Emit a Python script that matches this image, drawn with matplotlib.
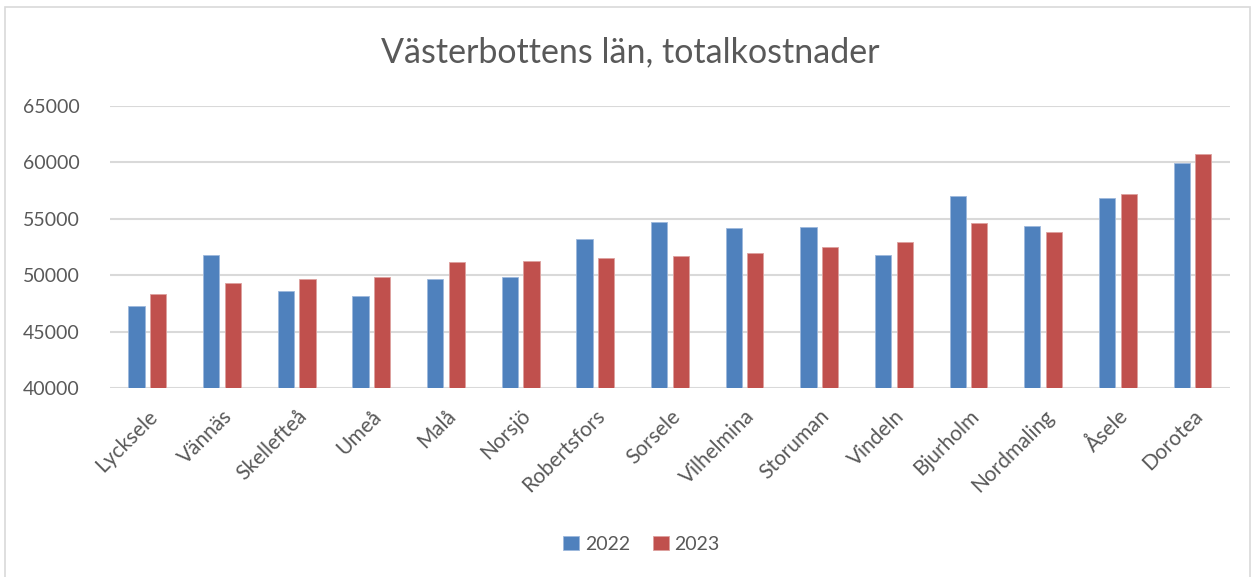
import numpy as np
import matplotlib.pyplot as plt
from matplotlib.patches import Rectangle

kommuner = ["Lycksele", "Vännäs", "Skellefteå", "Umeå", "Malå", "Norsjö",
            "Robertsfors", "Sorsele", "Vilhelmina", "Storuman", "Vindeln",
            "Bjurholm", "Nordmaling", "Åsele", "Dorotea"]
kostnad_2022 = [47300, 51830, 48640, 48140, 49620, 49820, 53170, 54700,
                54170, 54230, 51750, 57030, 54390, 56800, 59970]
kostnad_2023 = [48300, 49350, 49700, 49820, 51210, 51270, 51510, 51690,
                51980, 52460, 52940, 54600, 53830, 57240, 60710]
yticks = [40000, 45000, 50000, 55000, 60000, 65000]

blue = "#4F81BD"
red = "#C0504D"
grey_text = "#595959"
plt.rcParams["font.family"] = ["Lato", "DejaVu Sans"]

fig = plt.figure(figsize=(12.53, 5.77), dpi=100)
ax = fig.add_axes([0.0878, 0.3276, 0.8938, 0.4887])

x = np.arange(len(kommuner))
w = 0.215
ax.bar(x - 0.145, kostnad_2022, w, color=blue, edgecolor="#9DB8DC",
       linewidth=0.6, label="2022", zorder=3)
ax.bar(x + 0.145, kostnad_2023, w, color=red, edgecolor="#DDA09E",
       linewidth=0.6, label="2023", zorder=3)

ax.set_xlim(-0.5, len(kommuner) - 0.5)
ax.set_ylim(40000, 65000)
ax.set_yticks(yticks)
ax.set_yticklabels([str(v) for v in yticks], fontsize=14, color=grey_text)
ax.set_xticks(x)
ax.set_xticklabels(kommuner, rotation=45, ha="right", rotation_mode="anchor",
                   fontsize=15, color=grey_text)
ax.tick_params(axis="y", length=0, pad=22)
ax.tick_params(axis="x", length=0, pad=13)
ax.grid(axis="y", color="#D9D9D9", linewidth=1.5, zorder=0)
for s in ax.spines.values():
    s.set_visible(False)

fig.text(0.503, 0.91, "Västerbottens län, totalkostnader", ha="center",
         va="center", fontsize=24.5, color=grey_text)

fig.legend(loc="center", bbox_to_anchor=(0.512, 0.057), ncol=2, frameon=False,
           fontsize=14, handlelength=0.8, handleheight=0.8, columnspacing=1.2,
           handletextpad=0.3, labelcolor=grey_text)

# ram runt hela diagrammet
fig.patches.append(Rectangle((0.004, -0.01), 0.994, 0.998,
                             transform=fig.transFigure, fill=False,
                             edgecolor="#D9D9D9", linewidth=1.2))

fig.savefig("out.png", dpi=100)
